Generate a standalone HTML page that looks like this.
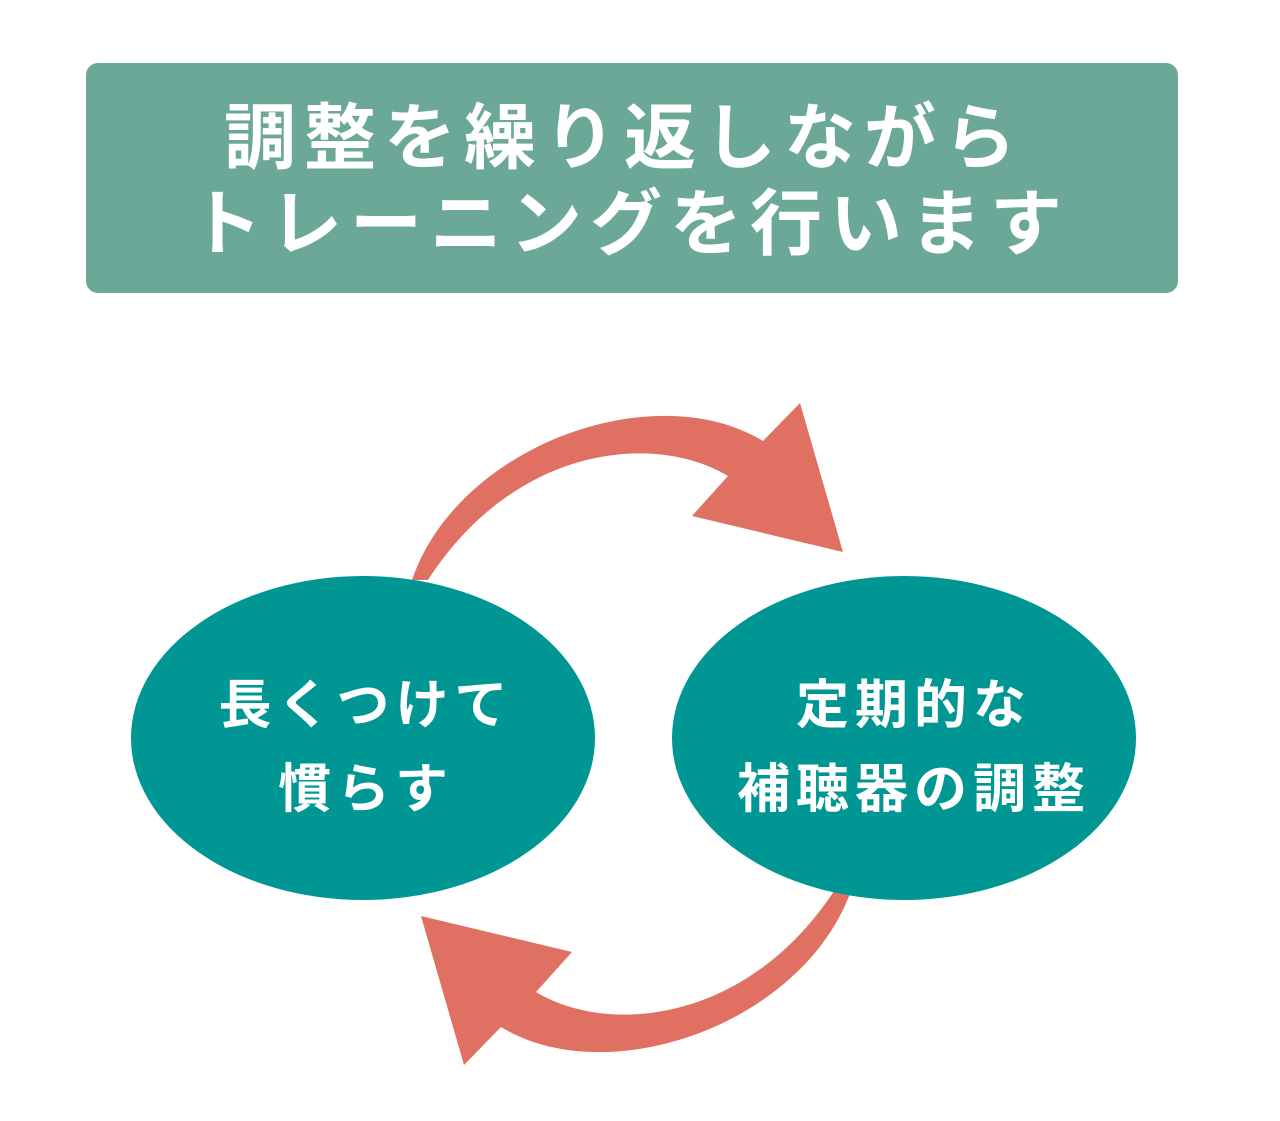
<!DOCTYPE html>
<html><head><meta charset="utf-8">
<style>
html,body{margin:0;padding:0;background:#fff;}
body{width:1280px;height:1116px;overflow:hidden;}
text{font-family:"Liberation Sans","Noto Sans CJK JP",sans-serif;font-weight:bold;fill:#fff;}
</style></head><body>
<svg width="1280" height="1116" viewBox="0 0 1280 1116" xmlns="http://www.w3.org/2000/svg">
<rect x="86" y="63" width="1092" height="230" rx="12" fill="#6ca897"/>
<text x="624" y="163" font-size="72" text-anchor="middle" letter-spacing="8">調整を繰り返しながら</text>
<text x="630" y="249" font-size="72" text-anchor="middle" letter-spacing="8">トレーニングを行います</text>
<g fill="#e07062">
<path id="arr" d="M412,580 C458,445 655,375 763,441 L800,403 L843,552 L692,516 L728,476 C655,432 515,445 428,580 Z"/>
<use href="#arr" transform="rotate(180 632 734)"/>
</g>
<ellipse cx="363" cy="738" rx="232" ry="162" fill="#009694"/>
<ellipse cx="904" cy="738" rx="232" ry="162" fill="#009694"/>
<g font-size="53" text-anchor="middle" letter-spacing="6">
<text x="366" y="723">長くつけて</text>
<text x="366" y="807">慣らす</text>
<text x="914" y="723">定期的な</text>
<text x="914" y="807">補聴器の調整</text>
</g>
</svg>
</body></html>
